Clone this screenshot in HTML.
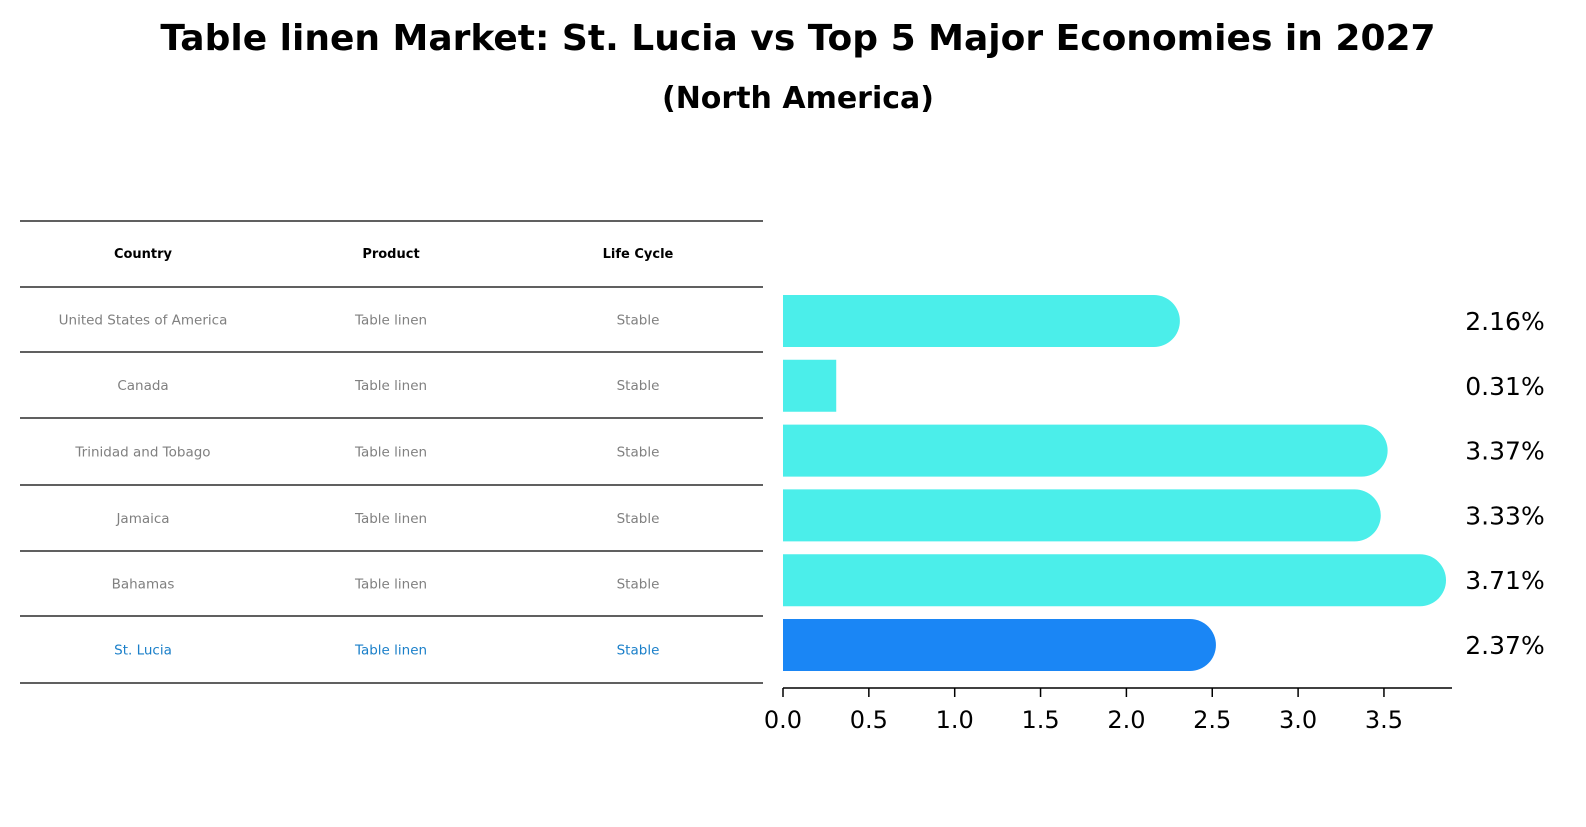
<!DOCTYPE html>
<html><head><meta charset="utf-8"><style>
body{margin:0;background:#fff;font-family:"DejaVu Sans","Liberation Sans",sans-serif;}
svg text{font-family:"DejaVu Sans","Liberation Sans",sans-serif;}
</style></head><body>
<svg id="chart" width="1586" height="823" viewBox="0 0 1586 823" xmlns="http://www.w3.org/2000/svg">
<text x="798" y="50" text-anchor="middle" font-size="36" font-weight="bold">Table linen Market: St. Lucia vs Top 5 Major Economies in 2027</text>
<text x="798" y="108" text-anchor="middle" font-size="30" font-weight="bold">(North America)</text>
<g id="table"></g>
<g id="bars"></g>
</svg>
<script>
const countries=["United States of America","Canada","Trinidad and Tobago","Jamaica","Bahamas","St. Lucia"];
const products=["Table linen","Table linen","Table linen","Table linen","Table linen","Table linen"];
const lifecycles=["Stable","Stable","Stable","Stable","Stable","Stable"];
const values=[2.16,0.31,3.37,3.33,3.71,2.37];
const valueLabels=["2.16%","0.31%","3.37%","3.33%","3.71%","2.37%"];
const ticks=[0,0.5,1,1.5,2,2.5,3,3.5];
const highlight="St. Lucia";
const NS="http://www.w3.org/2000/svg";
function mk(p,t,a){const e=document.createElementNS(NS,t);for(const k in a)e.setAttribute(k,a[k]);p.appendChild(e);return e;}
const x=v=>783+v*171.7;
const yc=i=>321+i*64.8;
const tb=document.getElementById('table');
const cols=[143,391,638];
const hy=[221,287,352,418,485,551,616,683];
hy.forEach(yy=>{const l=mk(tb,'line',{x1:20,x2:763,y1:yy,y2:yy,stroke:'#000','stroke-width':1.2});

});
["Country","Product","Life Cycle"].forEach((h,j)=>{const t=mk(tb,'text',{x:cols[j],y:258,'text-anchor':'middle','font-size':13,'font-weight':'bold'});t.textContent=h;

});
countries.forEach((c,i)=>{const col=c===highlight?'#1a7fc9':'#808080';const cy=(hy[i+1]+hy[i+2])/2+5;
[c,products[i],lifecycles[i]].forEach((s,j)=>{const t=mk(tb,'text',{x:cols[j],y:cy,'text-anchor':'middle','font-size':13.5,fill:col});t.textContent=s;

});});
const g=document.getElementById('bars');
const h=52;
values.forEach((v,i)=>{const col=countries[i]===highlight?'#1a86f5':'#4beeea';const top=yc(i)-h/2;
const r=h/2;let d;
if(v>1){d=`M${x(0)},${top} H${x(v)} A${r},${r} 0 0 1 ${x(v)},${top+h} H${x(0)} Z`;}
else{d=`M${x(0)},${top} H${x(v)} V${top+h} H${x(0)} Z`;}
const b=mk(g,'path',{d:d,fill:col});


const t=mk(g,'text',{x:1505,y:yc(i)+9,'text-anchor':'middle','font-size':25});t.textContent=valueLabels[i];

});
const ax=mk(g,'line',{x1:x(0),x2:1452,y1:688,y2:688,stroke:'#000','stroke-width':1.5});


ticks.forEach(tk=>{const l=mk(g,'line',{x1:x(tk),x2:x(tk),y1:688,y2:697,stroke:'#000','stroke-width':1.5});


const t=mk(g,'text',{x:x(tk),y:728,'text-anchor':'middle','font-size':24});t.textContent=tk.toFixed(1);

});
</script>
</body></html>
